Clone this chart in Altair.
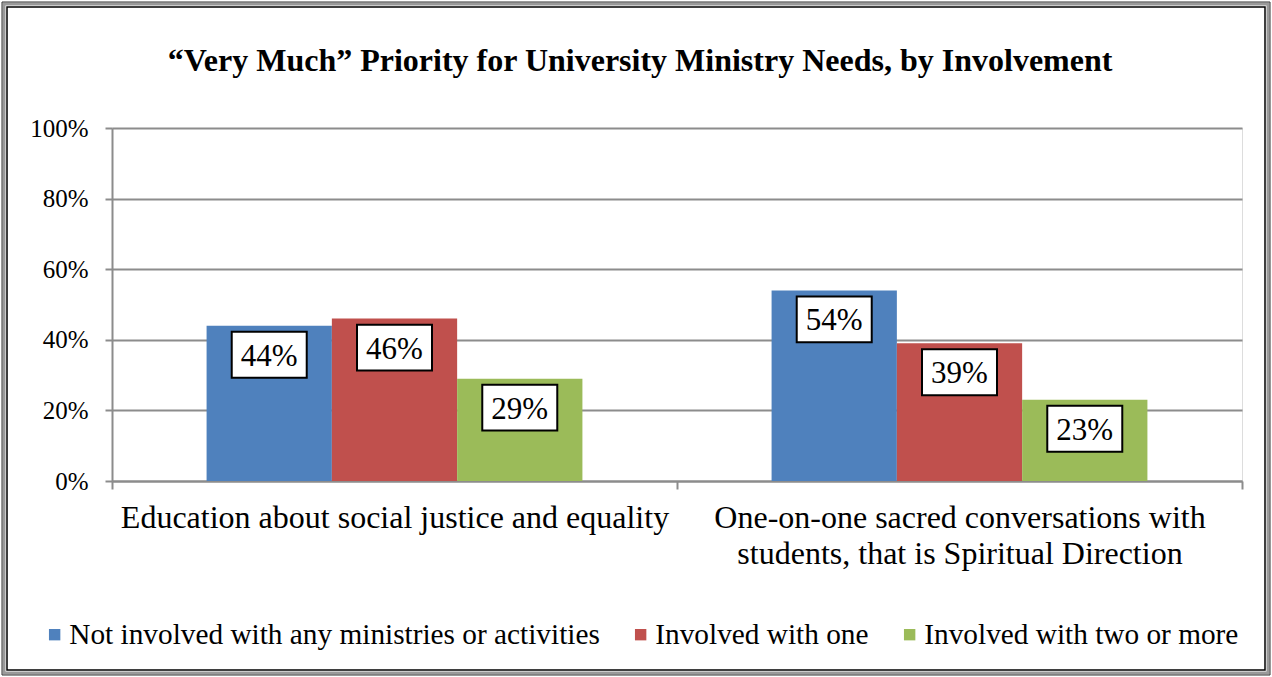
import altair as alt
import pandas as pd

categories = ["Education about social justice and equality",
              "One-on-one sacred conversations with|students, that is Spiritual Direction"]
groups = ["Not involved with any ministries or activities", "Involved with one", "Involved with two or more"]
not_involved = [0.44, 0.54]
involved_one = [0.46, 0.39]
involved_two = [0.29, 0.23]
colors = ["#4F81BD", "#C0504D", "#9BBB59"]
title_text = "“Very Much” Priority for University Ministry Needs, by Involvement"

rows = []
for i, c in enumerate(categories):
    for g, vals in zip(groups, [not_involved, involved_one, involved_two]):
        rows.append({"category": c, "group": g, "value": vals[i]})
df = pd.DataFrame(rows)

W, H = 1130, 353
FONT = "Liberation Serif, Times New Roman, DejaVu Serif, serif"

x_enc = alt.X("category:N", sort=categories,
              scale=alt.Scale(paddingInner=0, paddingOuter=0),
              axis=alt.Axis(title=None, labelExpr="split(datum.label, '|')",
                            labelAngle=0, labelFontSize=32, labelFont=FONT, labelColor="black",
                            labelLineHeight=36, labelPadding=13, tickBand="extent",
                            tickSize=8, tickColor="#8c8c8c", tickWidth=2,
                            domainColor="#8c8c8c", domainWidth=2, grid=False,
                            labelBaseline="top", labelLimit=1000))
xoff = alt.XOffset("group:N", sort=groups,
                   scale=alt.Scale(paddingInner=0, paddingOuter=0.755))

base = alt.Chart(df)

bars = base.mark_bar().encode(
    x=x_enc,
    xOffset=xoff,
    y=alt.Y("value:Q", scale=alt.Scale(domain=[0, 1]),
            axis=alt.Axis(title=None, format=".0%", values=[0, 0.2, 0.4, 0.6, 0.8, 1.0],
                          labelFontSize=25, labelFont=FONT, labelColor="black",
                          tickSize=7, tickColor="#8c8c8c", tickWidth=2, labelPadding=17,
                          domainColor="#8c8c8c", domainWidth=2,
                          gridColor="#8c8c8c", gridWidth=2)),
    color=alt.Color("group:N", sort=groups,
                    scale=alt.Scale(domain=groups, range=colors),
                    legend=alt.Legend(title=None, orient="none", direction="horizontal",
                                      legendX=-72, legendY=492,
                                      symbolType="square", symbolSize=130,
                                      symbolStrokeWidth=0, labelFontSize=29.3,
                                      labelFont=FONT, labelColor="black",
                                      labelOffset=0, columnPadding=26,
                                      labelLimit=700)),
)

boxes = base.mark_point(
    shape="M-1,-0.613L1,-0.613L1,0.613L-1,0.613Z",
    size=5625, filled=True, fill="white", stroke="black", strokeWidth=2,
    opacity=1, yOffset=29,
).encode(x=alt.X("category:N", sort=categories), xOffset=xoff, y="value:Q")

labels = base.mark_text(
    fontSize=31, font=FONT, color="black", baseline="middle", align="center", dy=31,
).encode(x=alt.X("category:N", sort=categories), xOffset=xoff, y="value:Q",
         text=alt.Text("value:Q", format=".0%"))

title_df = pd.DataFrame({"t": [title_text]})
title = alt.Chart(title_df).mark_text(
    font=FONT, fontSize=32, fontWeight="bold", color="black", align="center", baseline="alphabetic"
).encode(x=alt.value(528), y=alt.value(-57), text="t:N")

frame_df = pd.DataFrame({"k": [0]})
frame_outer = alt.Chart(frame_df).mark_rect(fill=None, stroke="#9a9a9a", strokeWidth=3).encode(
    x=alt.value(-108), x2=alt.value(W + 26), y=alt.value(-124), y2=alt.value(H + 192))
frame_inner = alt.Chart(frame_df).mark_rect(fill=None, stroke="black", strokeWidth=1.5).encode(
    x=alt.value(-105), x2=alt.value(W + 23), y=alt.value(-121), y2=alt.value(H + 189))
frame_edge = alt.Chart(frame_df).mark_rect(fill=None, stroke="#333333", strokeWidth=1).encode(
    x=alt.value(-110), x2=alt.value(W + 28), y=alt.value(-126), y2=alt.value(H + 194))

chart = alt.layer(bars, boxes, labels, title, frame_outer, frame_edge, frame_inner).properties(
    width=W, height=H,
    autosize=alt.AutoSizeParams(type="none"),
    padding={"left": 112, "top": 128, "right": 30, "bottom": 196},
).configure_view(stroke=None).configure(background="white")

chart.save("out.html", embed_options={"renderer": "svg", "actions": False})
